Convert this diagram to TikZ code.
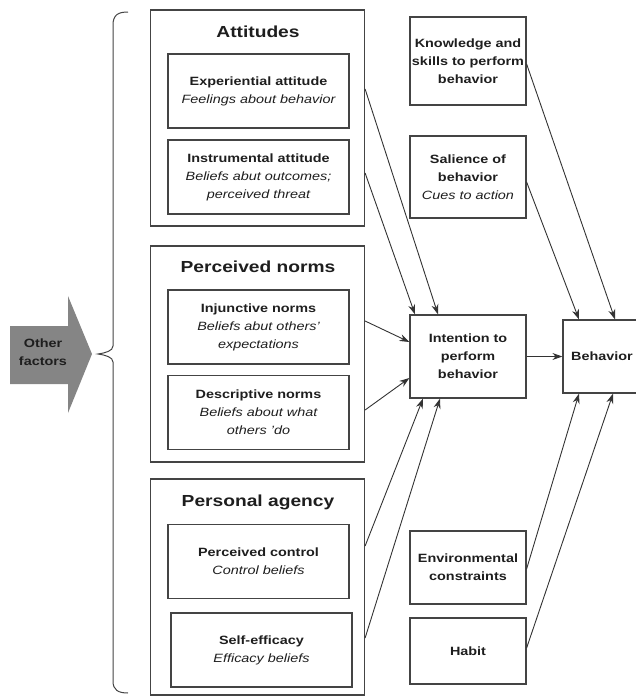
\documentclass[tikz,border=0pt]{standalone}
\usepackage{fontspec}
\setmainfont{Liberation Sans}[FakeStretch=1.2]
\usetikzlibrary{arrows.meta}
\definecolor{boxline}{HTML}{444444}
\definecolor{txt}{HTML}{1E1E1E}
\definecolor{conncol}{HTML}{333333}
\definecolor{bigarrow}{HTML}{858585}
\newcommand{\itl}[1]{{\mdseries\itshape #1}}
\begin{document}
\begin{tikzpicture}[x=1pt,y=-1pt,
  box/.style={draw=boxline, line width=1.2pt, rectangle, inner sep=0pt, align=center, text=txt,
    font=\fontsize{12}{18}\selectfont\bfseries},
  group/.style={draw=boxline, line width=1.2pt, rectangle, inner sep=0pt, minimum width=214pt},
  inner/.style={box, minimum width=181pt, minimum height=74pt},
  side/.style={box, minimum width=116pt},
  title/.style={text=txt, font=\fontsize{16}{19}\selectfont\bfseries, anchor=base, inner sep=0pt},
  conn/.style={draw=conncol, line width=0.9pt, -{Stealth[length=10pt,width=7pt]}}
]
\useasboundingbox (0,0) rectangle (636,697);

% Big arrow "Other factors"
\fill[bigarrow] (10,326) -- (68,326) -- (68,296) -- (92,354) -- (68,413) -- (68,384) -- (10,384) -- cycle;
\node[text=txt, align=center, font=\fontsize{12}{18}\selectfont\bfseries] (other) at (43,352) {Other\\factors};

% Brace
\draw[draw=boxline, line width=1pt] (128,12) .. controls (118,12) and (113,15) .. (113,25)
  -- (113,346) .. controls (113,351) and (105,353) .. (98,354)
  .. controls (105,355) and (113,357) .. (113,362)
  -- (113,681) .. controls (113,690) and (118,693) .. (128,693);

% Groups
\node[group, minimum height=216pt] (att) at (257.5,118) {};
\node[title] (atttitle) at (258,37) {Attitudes};
\node[inner] (exp) at (258.5,91) {Experiential attitude\\\itl{Feelings about behavior}};
\node[inner] (ins) at (258.5,177) {Instrumental attitude\\\itl{Beliefs abut outcomes;}\\\itl{perceived threat}};

\node[group, minimum height=216pt] (norms) at (257.5,354) {};
\node[title] (normstitle) at (258,272) {Perceived norms};
\node[inner] (inj) at (258.5,327) {Injunctive norms\\\itl{Beliefs abut others'}\\\itl{expectations}};
\node[inner] (des) at (258.5,412.5) {Descriptive norms\\\itl{Beliefs about what}\\\itl{others 'do}};

\node[group, minimum height=216pt] (agency) at (257.5,587) {};
\node[title] (agencytitle) at (258,506) {Personal agency};
\node[inner] (pc) at (258.5,561.5) {Perceived control\\\itl{Control beliefs}};
\node[inner] (se) at (261.5,650) {Self-efficacy\\\itl{Efficacy beliefs}};

% Right column
\node[side, minimum height=88pt] (know) at (468,61) {Knowledge and\\skills to perform\\behavior};
\node[side, minimum height=82pt] (sal) at (468,177) {Salience of\\behavior\\\itl{Cues to action}};
\node[side, minimum height=83pt] (int) at (468,356.5) {Intention to\\perform\\behavior};
\node[box, minimum width=78pt, minimum height=73pt] (beh) at (602,356.5) {Behavior};
\node[side, minimum height=73pt] (env) at (468,567.5) {Environmental\\constraints};
\node[side, minimum height=66pt] (habit) at (468,651) {Habit};

% Connectors
\draw[conn] ([yshift=29pt]att.east) -- ([xshift=-30pt]int.north);
\draw[conn] ([yshift=-55pt]att.east) -- ([xshift=-53pt]int.north);
\draw[conn] ([yshift=33pt]norms.east) -- ([yshift=14.5pt]int.west);
\draw[conn] ([yshift=-56pt]norms.east) -- ([yshift=-21.5pt]int.west);
\draw[conn] ([yshift=41pt]agency.east) -- ([xshift=-45pt]int.south);
\draw[conn] ([yshift=-51pt]agency.east) -- ([xshift=-28pt]int.south);
\draw[conn] ([yshift=-3pt]know.east) -- ([xshift=13pt]beh.north);
\draw[conn] ([yshift=-5pt]sal.east) -- ([xshift=-23pt]beh.north);
\draw[conn] (int.east) -- (beh.west);
\draw[conn] ([yshift=-1.5pt]env.east) -- ([xshift=-23pt]beh.south);
\draw[conn] ([yshift=3pt]habit.east) -- ([xshift=11pt]beh.south);
\end{tikzpicture}
\end{document}
